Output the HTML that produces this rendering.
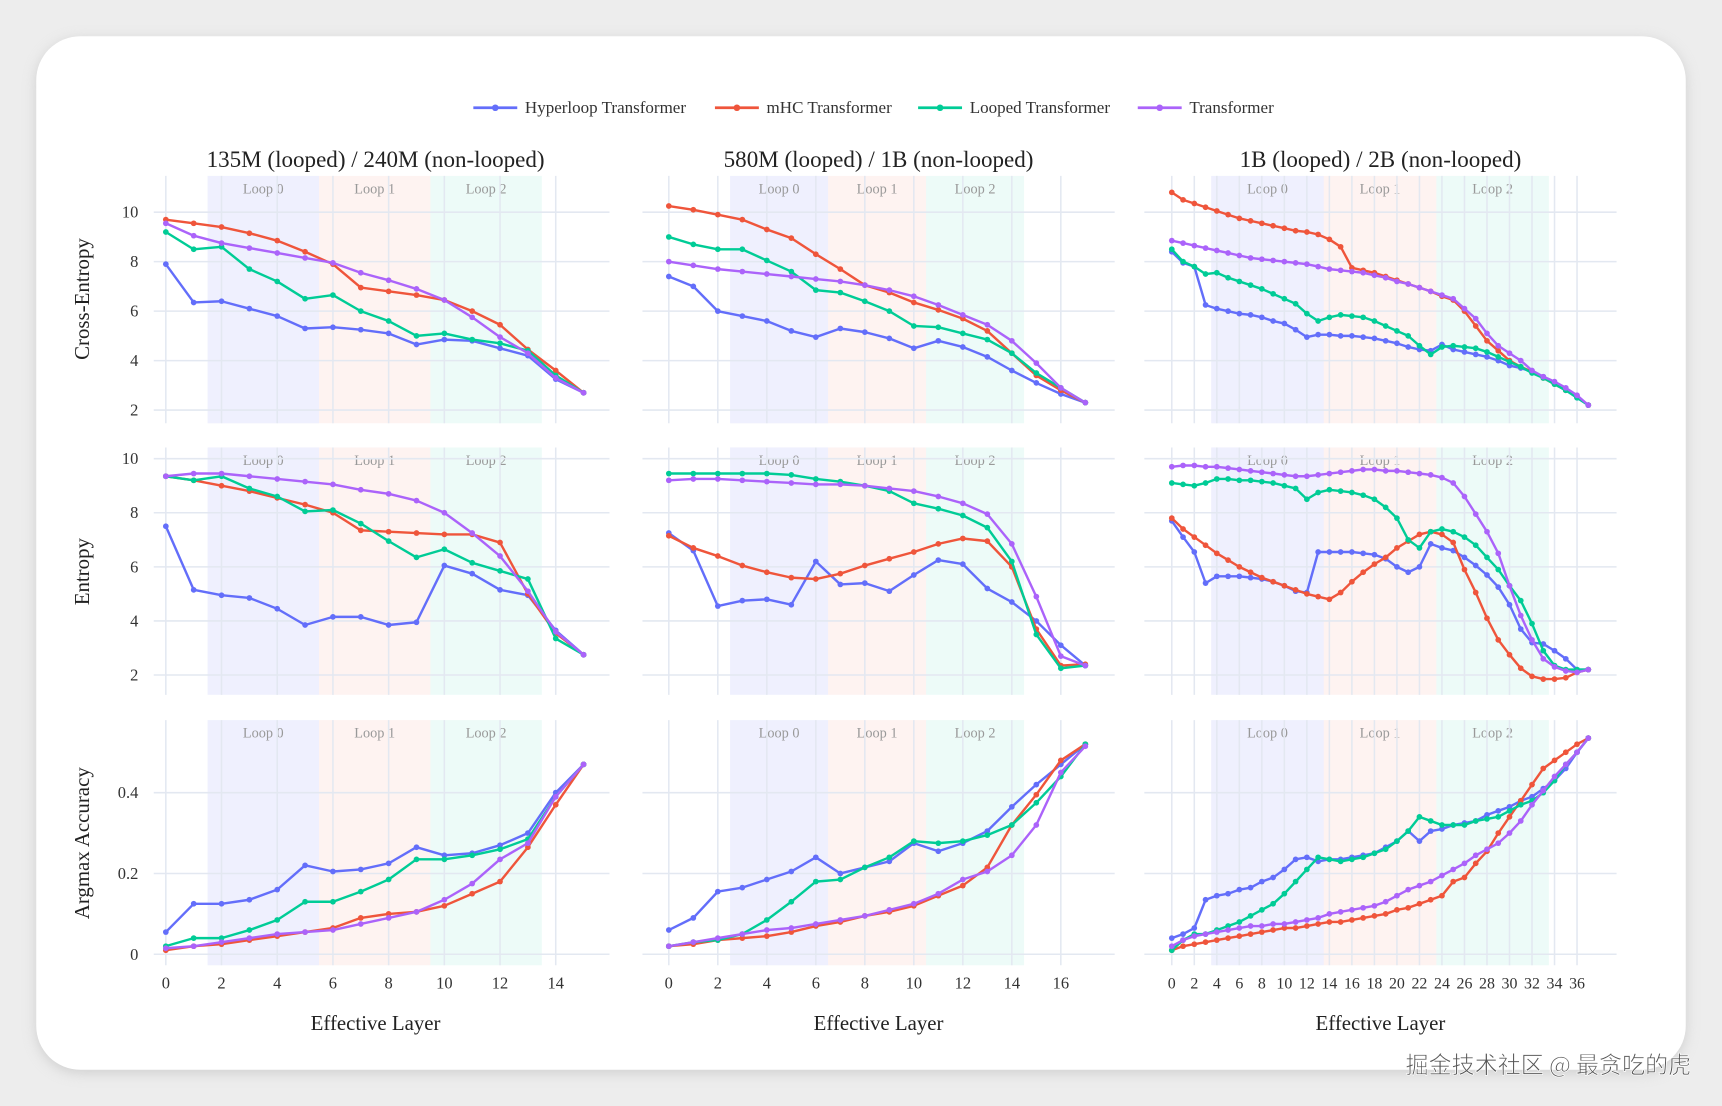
<!DOCTYPE html>
<html><head><meta charset="utf-8"><style>
html,body{margin:0;padding:0;background:#ececec;}
svg{display:block;font-family:"Liberation Serif","Noto Serif CJK SC",serif;}
</style></head><body>
<svg id="chart" width="1722" height="1106" viewBox="0 0 1568 1006" preserveAspectRatio="none" xmlns="http://www.w3.org/2000/svg">
<defs><filter id="sh" x="-5%" y="-5%" width="110%" height="110%"><feGaussianBlur stdDeviation="6"/></filter></defs>
<rect width="1568" height="1006" fill="#ededed"/>
<rect x="33" y="36" width="1502" height="940" rx="40" fill="#bbb" filter="url(#sh)" opacity="0.6"/>
<rect x="33" y="33" width="1502" height="940" rx="40" fill="#fff"/>
<g id="legend" font-size="15" fill="#333"></g>
<g id="panels"></g>
<text x="1540" y="976" text-anchor="end" font-size="21" fill="#555" stroke="#fff" stroke-width="0.6" font-family="'Noto Sans CJK SC',sans-serif">掘金技术社区 @ 最贪吃的虎</text>
</svg>
<script>
// ---- data ----
const seriesNames = ["Hyperloop Transformer","mHC Transformer","Looped Transformer","Transformer"];
const colTitles = ["135M (looped) / 240M (non-looped)","580M (looped) / 1B (non-looped)","1B (looped) / 2B (non-looped)"];
const rowTitles = ["Cross-Entropy","Entropy","Argmax Accuracy"];
const loopLabels = ["Loop 0","Loop 1","Loop 2"];
const loopStarts0 = [1.5,5.5,9.5,13.5];
const loopStarts1 = [2.5,6.5,10.5,14.5];
const loopStarts2 = [3.5,13.5,23.5,33.5];
const xTicks0 = [0,2,4,6,8,10,12,14];
const xTicks1 = [0,2,4,6,8,10,12,14,16];
const xTicks2 = [0,2,4,6,8,10,12,14,16,18,20,22,24,26,28,30,32,34,36];
const yTicksCE = [2,4,6,8,10];
const yTicksEnt = [2,4,6,8,10];
const yTicksAcc = [0,0.2,0.4];
const yTickLabelsAcc = ["0","0.2","0.4"];

const ce0_hyper=[7.9,6.35,6.4,6.1,5.8,5.3,5.35,5.25,5.1,4.65,4.85,4.8,4.5,4.2,3.25,2.7];
const ce0_mhc=[9.7,9.55,9.4,9.15,8.85,8.4,7.9,6.95,6.8,6.65,6.45,6.0,5.45,4.45,3.6,2.7];
const ce0_looped=[9.2,8.5,8.6,7.7,7.2,6.5,6.65,6.0,5.6,5.0,5.1,4.85,4.7,4.4,3.4,2.7];
const ce0_trans=[9.55,9.05,8.75,8.55,8.35,8.15,7.95,7.55,7.25,6.9,6.45,5.75,4.95,4.3,3.3,2.7];

const ce1_hyper=[7.4,7.0,6.0,5.8,5.6,5.2,4.95,5.3,5.15,4.9,4.5,4.8,4.55,4.15,3.6,3.1,2.65,2.3];
const ce1_mhc=[10.25,10.1,9.9,9.7,9.3,8.95,8.3,7.7,7.05,6.75,6.35,6.05,5.7,5.2,4.3,3.4,2.8,2.3];
const ce1_looped=[9.0,8.7,8.5,8.5,8.05,7.6,6.85,6.75,6.4,6.0,5.4,5.35,5.1,4.85,4.3,3.5,2.9,2.3];
const ce1_trans=[8.0,7.85,7.7,7.6,7.5,7.4,7.3,7.2,7.05,6.85,6.6,6.25,5.85,5.45,4.8,3.9,2.9,2.3];

const ce2_hyper=[8.4,7.95,7.8,6.25,6.1,6.0,5.9,5.85,5.75,5.6,5.5,5.25,4.95,5.05,5.05,5.0,5.0,4.95,4.9,4.8,4.7,4.55,4.45,4.4,4.65,4.45,4.35,4.25,4.15,4.0,3.8,3.7,3.55,3.35,3.05,2.8,2.5,2.2];
const ce2_mhc=[10.8,10.5,10.35,10.2,10.05,9.9,9.75,9.65,9.55,9.45,9.35,9.25,9.2,9.1,8.9,8.6,7.75,7.65,7.55,7.4,7.25,7.1,6.95,6.8,6.6,6.45,6.0,5.4,4.8,4.4,4.0,3.75,3.55,3.3,3.05,2.8,2.55,2.2];
const ce2_looped=[8.5,8.0,7.8,7.5,7.55,7.35,7.2,7.05,6.9,6.7,6.5,6.3,5.9,5.6,5.75,5.85,5.8,5.75,5.6,5.4,5.2,5.0,4.6,4.25,4.55,4.6,4.55,4.5,4.35,4.15,3.95,3.75,3.5,3.3,3.05,2.8,2.5,2.2];
const ce2_trans=[8.85,8.75,8.65,8.55,8.45,8.35,8.25,8.15,8.1,8.05,8.0,7.95,7.9,7.8,7.7,7.65,7.6,7.55,7.45,7.35,7.2,7.1,6.95,6.8,6.65,6.5,6.1,5.7,5.1,4.6,4.3,4.0,3.6,3.35,3.15,2.9,2.6,2.2];

const en0_hyper=[7.5,5.15,4.95,4.85,4.45,3.85,4.15,4.15,3.85,3.95,6.05,5.75,5.15,4.95,3.65,2.75];
const en0_mhc=[9.35,9.2,9.0,8.8,8.55,8.3,8.0,7.35,7.3,7.25,7.2,7.2,6.9,5.0,3.55,2.75];
const en0_looped=[9.35,9.2,9.35,8.9,8.6,8.05,8.1,7.6,6.95,6.35,6.65,6.15,5.85,5.55,3.35,2.75];
const en0_trans=[9.35,9.45,9.45,9.35,9.25,9.15,9.05,8.85,8.7,8.45,8.0,7.25,6.4,5.1,3.6,2.75];

const en1_hyper=[7.25,6.6,4.55,4.75,4.8,4.6,6.2,5.35,5.4,5.1,5.7,6.25,6.1,5.2,4.7,4.0,3.1,2.35];
const en1_mhc=[7.15,6.7,6.4,6.05,5.8,5.6,5.55,5.75,6.05,6.3,6.55,6.85,7.05,6.95,6.0,3.7,2.35,2.4];
const en1_looped=[9.45,9.45,9.45,9.45,9.45,9.4,9.25,9.15,9.0,8.8,8.35,8.15,7.9,7.45,6.2,3.5,2.25,2.35];
const en1_trans=[9.2,9.25,9.25,9.2,9.15,9.1,9.05,9.05,9.0,8.9,8.8,8.6,8.35,7.95,6.85,4.9,2.7,2.35];

const en2_hyper=[7.7,7.1,6.55,5.4,5.65,5.65,5.65,5.6,5.55,5.45,5.3,5.1,5.05,6.55,6.55,6.55,6.55,6.5,6.45,6.3,6.0,5.8,6.0,6.85,6.7,6.6,6.35,6.05,5.7,5.25,4.6,3.7,3.2,3.15,2.9,2.6,2.2,2.2];
const en2_mhc=[7.8,7.4,7.1,6.8,6.5,6.25,6.0,5.8,5.6,5.45,5.3,5.15,5.0,4.9,4.8,5.05,5.45,5.8,6.1,6.35,6.7,6.95,7.2,7.3,7.2,6.9,5.9,5.05,4.1,3.3,2.75,2.25,1.95,1.85,1.85,1.9,2.1,2.2];
const en2_looped=[9.1,9.05,9.0,9.1,9.25,9.25,9.2,9.2,9.15,9.1,9.0,8.9,8.5,8.75,8.85,8.8,8.75,8.65,8.5,8.2,7.8,7.0,6.7,7.3,7.4,7.3,7.1,6.8,6.35,5.9,5.3,4.75,3.9,2.9,2.35,2.2,2.2,2.2];
const en2_trans=[9.7,9.75,9.75,9.7,9.7,9.65,9.6,9.55,9.5,9.45,9.4,9.35,9.35,9.4,9.45,9.5,9.55,9.6,9.6,9.55,9.55,9.5,9.45,9.4,9.3,9.1,8.6,7.95,7.3,6.5,5.3,4.2,3.3,2.6,2.3,2.15,2.1,2.2];

const ac0_hyper=[.055,.125,.125,.135,.16,.22,.205,.21,.225,.265,.245,.25,.27,.30,.40,.47];
const ac0_mhc=[.01,.02,.025,.035,.045,.055,.065,.09,.10,.105,.12,.15,.18,.265,.37,.47];
const ac0_looped=[.02,.04,.04,.06,.085,.13,.13,.155,.185,.235,.235,.245,.26,.285,.39,.47];
const ac0_trans=[.015,.02,.03,.04,.05,.055,.06,.075,.09,.105,.135,.175,.235,.275,.39,.47];

const ac1_hyper=[.06,.09,.155,.165,.185,.205,.24,.20,.215,.23,.275,.255,.275,.305,.365,.42,.47,.52];
const ac1_mhc=[.02,.025,.035,.04,.045,.055,.07,.08,.095,.105,.12,.145,.17,.215,.32,.395,.48,.52];
const ac1_looped=[.02,.03,.035,.05,.085,.13,.18,.185,.215,.24,.28,.275,.28,.295,.32,.375,.44,.52];
const ac1_trans=[.02,.03,.04,.05,.06,.065,.075,.085,.095,.11,.125,.15,.185,.205,.245,.32,.45,.515];

const ac2_hyper=[.04,.05,.065,.135,.145,.15,.16,.165,.18,.19,.21,.235,.24,.23,.235,.235,.24,.245,.25,.265,.28,.305,.28,.305,.31,.32,.325,.33,.345,.355,.365,.38,.39,.41,.43,.46,.50,.535];
const ac2_mhc=[.01,.02,.025,.03,.035,.04,.045,.05,.055,.06,.065,.065,.07,.075,.08,.08,.085,.09,.095,.10,.11,.115,.125,.135,.145,.18,.19,.225,.255,.30,.34,.38,.42,.46,.48,.50,.52,.535];
const ac2_looped=[.01,.035,.05,.05,.06,.07,.08,.095,.11,.125,.15,.18,.21,.24,.235,.23,.235,.24,.25,.26,.28,.305,.34,.33,.32,.32,.32,.33,.335,.34,.355,.37,.38,.40,.43,.47,.50,.535];
const ac2_trans=[.02,.035,.045,.05,.055,.06,.065,.07,.07,.075,.075,.08,.085,.09,.1,.105,.11,.115,.12,.13,.145,.16,.17,.18,.195,.21,.225,.245,.26,.275,.30,.33,.37,.405,.44,.47,.50,.535];

// ---- layout ----
const colors=["#636efa","#ef553b","#00cc96","#ab63fa"];
const NS="http://www.w3.org/2000/svg";
const cols=[{x0:151,dx:25.36,l:140,r:555,ticks:xTicks0,loops:loopStarts0,cx:342},
            {x0:609,dx:22.31,l:585,r:1015,ticks:xTicks1,loops:loopStarts1,cx:800},
            {x0:1067,dx:10.25,l:1042,r:1472,ticks:xTicks2,loops:loopStarts2,cx:1257}];
const rows=[{y0:373,base:2,dy:22.5,t:160,b:385,ticks:yTicksCE,labels:null,cy:272},
            {y0:614,base:2,dy:24.6,t:407,b:632,ticks:yTicksEnt,labels:null,cy:520},
            {y0:868,base:0,dy:367.5,t:655,b:878,ticks:yTicksAcc,labels:yTickLabelsAcc,cy:767}];
const data=[[[ce0_hyper,ce0_mhc,ce0_looped,ce0_trans],[ce1_hyper,ce1_mhc,ce1_looped,ce1_trans],[ce2_hyper,ce2_mhc,ce2_looped,ce2_trans]],
            [[en0_hyper,en0_mhc,en0_looped,en0_trans],[en1_hyper,en1_mhc,en1_looped,en1_trans],[en2_hyper,en2_mhc,en2_looped,en2_trans]],
            [[ac0_hyper,ac0_mhc,ac0_looped,ac0_trans],[ac1_hyper,ac1_mhc,ac1_looped,ac1_trans],[ac2_hyper,ac2_mhc,ac2_looped,ac2_trans]]];
function xs(c,v){return cols[c].x0+v*cols[c].dx;}
function ys(r,v){return rows[r].y0-(v-rows[r].base)*rows[r].dy;}
function mk(tag,attrs,parent){const e=document.createElementNS(NS,tag);for(const k in attrs)e.setAttribute(k,attrs[k]);parent.appendChild(e);return e;}
const P=document.getElementById('panels');
const loopFill=["rgba(99,110,250,0.10)","rgba(239,85,59,0.07)","rgba(0,204,150,0.07)"];

for(let c=0;c<3;c++){
  const C=cols[c];
  const t=mk('text',{x:C.cx,y:152,'text-anchor':'middle','font-size':21,fill:'#222'},P);
  t.textContent=colTitles[c];
  
  
  const xt=mk('text',{x:C.cx,y:937,'text-anchor':'middle','font-size':19,fill:'#222'},P);
  xt.textContent="Effective Layer";
  
  
  C.ticks.forEach(v=>{
    const tl=mk('text',{x:xs(c,v),y:899,'text-anchor':'middle','font-size':c==2?14.5:15,fill:'#333'},P);
    tl.textContent=v;
    
    
  });
  for(let r=0;r<3;r++){
    const R=rows[r];
    const g=mk('g',{},P);
    
    
    for(let k=0;k<3;k++){
      const a=xs(c,C.loops[k]),b=xs(c,C.loops[k+1]);
      const rc=mk('rect',{x:a,y:R.t,width:b-a,height:R.b-R.t,fill:loopFill[k]},g);
      
      
      const lt=mk('text',{x:(a+b)/2,y:R.t+16,'text-anchor':'middle','font-size':13,fill:'#999'},g);
      lt.textContent=loopLabels[k];
      
      
    }
    C.ticks.forEach(v=>{mk('line',{x1:xs(c,v),x2:xs(c,v),y1:R.t,y2:R.b,stroke:'#e3e8f1','stroke-width':1.4},g);});
    R.ticks.forEach((v,i)=>{
      mk('line',{x1:C.l,x2:C.r,y1:ys(r,v),y2:ys(r,v),stroke:'#e3e8f1','stroke-width':1.4},g);
      if(c==0){
        const yl=mk('text',{x:126,y:ys(r,v)+5,'text-anchor':'end','font-size':15,fill:'#333'},P);
        yl.textContent=R.labels?R.labels[i]:v;
        
        
      }
    });
    data[r][c].forEach((arr,s)=>{
      const pts=arr.map((v,i)=>xs(c,i).toFixed(1)+','+ys(r,v).toFixed(1)).join(' ');
      const pl=mk('polyline',{points:pts,fill:'none',stroke:colors[s],'stroke-width':2.2,'stroke-linejoin':'round'},g);
      
      
      arr.forEach((v,i)=>{
        const m=mk('circle',{cx:xs(c,i),cy:ys(r,v),r:2.6,fill:colors[s]},g);
        
        
      });
    });
  }
}
for(let r=0;r<3;r++){
  const yt=mk('text',{x:0,y:0,'text-anchor':'middle','font-size':19,fill:'#222',transform:'translate(81,'+rows[r].cy+') rotate(-90)'},P);
  yt.textContent=rowTitles[r];
  
  
}
const L=document.getElementById('legend');
const legX=[431,651,836,1036];
seriesNames.forEach((n,s)=>{
  const g=mk('g',{},L);
  
  
  mk('line',{x1:legX[s],x2:legX[s]+40,y1:98,y2:98,stroke:colors[s],'stroke-width':2.5},g);
  mk('circle',{cx:legX[s]+20,cy:98,r:3,fill:colors[s]},g);
  const t=mk('text',{x:legX[s]+47,y:103,'font-size':15.5,fill:'#333'},g);
  t.textContent=n;
});
</script>
</body></html>
